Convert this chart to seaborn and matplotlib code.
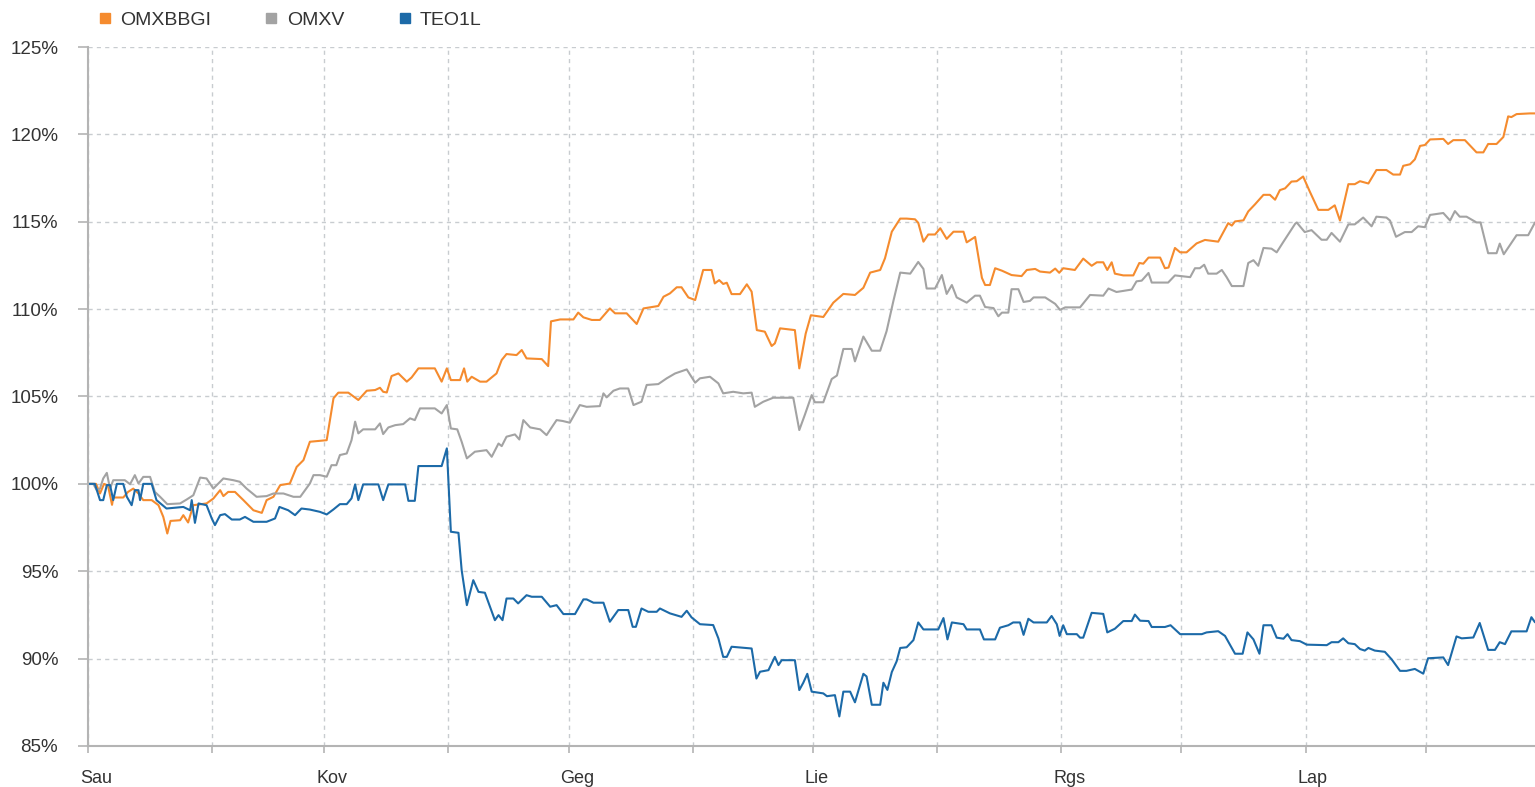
import pandas as pd
import seaborn as sns
import matplotlib
matplotlib.use("Agg")
import matplotlib.pyplot as plt
import matplotlib.dates as mdates
import matplotlib.transforms as mtransforms
from matplotlib.lines import Line2D
from matplotlib.ticker import FuncFormatter, MultipleLocator

# (day of year, % of start value)
omxbbgi = [
    (0, 100.0), (2, 100.0), (3, 99.45), (4, 100.0), (5, 99.9), (6, 98.8), (6.3, 99.22),
    (8.8, 99.22), (10, 99.54), (11.3, 99.73), (12.6, 99.45), (13.8, 99.07), (15.9, 99.07),
    (17.6, 98.78), (18.8, 98.11), (19.8, 97.16), (20.6, 97.88), (23, 97.92), (23.8, 98.21),
    (25, 97.79), (26.3, 98.78), (29.6, 98.88), (31.3, 99.16), (33, 99.64), (33.8, 99.3),
    (35, 99.54), (36.7, 99.54), (38.8, 99.07), (41.3, 98.49), (43.4, 98.34), (44.6, 99.07),
    (46.3, 99.26), (48, 99.93), (50.4, 100.02), (52.1, 100.97), (53.8, 101.36), (55.4, 102.41),
    (59.6, 102.5), (61.3, 104.9), (62.5, 105.22), (65, 105.22), (67.5, 104.8), (69.6, 105.33),
    (71.7, 105.37), (72.9, 105.5), (73.7, 105.27), (74.6, 105.23), (75.8, 106.17), (77.5, 106.32),
    (79.6, 105.85), (80.8, 106.09), (82.5, 106.61), (86.6, 106.61), (88.3, 105.85), (89.6, 106.61),
    (90.6, 105.94), (92.9, 105.94), (93.9, 106.61), (94.7, 105.85), (95.8, 106.13), (97.9, 105.85),
    (99.5, 105.85), (102, 106.32), (103.3, 107.09), (104.5, 107.43), (107, 107.37), (108.3, 107.66),
    (109.5, 107.18), (113.3, 107.14), (114.9, 106.74), (115.6, 109.3), (117.9, 109.41),
    (121.2, 109.41), (122.4, 109.8), (123.7, 109.53), (125.8, 109.38), (127.8, 109.38),
    (130.3, 110.04), (131.6, 109.76), (134.5, 109.76), (135.7, 109.47), (137, 109.15),
    (138.7, 110.04), (142.4, 110.18), (143.7, 110.71), (145.3, 110.9), (147, 111.25),
    (148.2, 111.25), (149.9, 110.67), (151.6, 110.52), (153.6, 112.24), (155.7, 112.24),
    (156.5, 111.47), (157.6, 111.66), (158.6, 111.44), (159.5, 111.51), (160.7, 110.86),
    (162.8, 110.86), (164.5, 111.42), (165.7, 111.0), (167, 108.8), (169, 108.71),
    (170.7, 107.89), (171.5, 108.04), (172.8, 108.9), (176.5, 108.8), (177.6, 106.61),
    (179.2, 108.6), (180.5, 109.65), (183.6, 109.55), (186.1, 110.37), (188.6, 110.87),
    (191.5, 110.81), (193.6, 111.22), (195.3, 112.09), (197.8, 112.24), (199, 112.91),
    (200.7, 114.43), (202.8, 115.18), (204.4, 115.18), (206.5, 115.14), (207.3, 114.94),
    (208.6, 113.86), (209.8, 114.27), (211.5, 114.27), (212.8, 114.63), (214.4, 114.02),
    (216.1, 114.43), (218.6, 114.43), (219.4, 113.82), (221.5, 114.13), (223.2, 111.79),
    (224, 111.38), (225.2, 111.38), (226.5, 112.34), (228.2, 112.2), (230.6, 111.95),
    (233.1, 111.89), (234.4, 112.24), (236.5, 112.3), (237.7, 112.15), (240.2, 112.09),
    (241.5, 112.32), (242.5, 112.08), (243.5, 112.34), (246.4, 112.24), (248.5, 112.89),
    (250.6, 112.48), (251.9, 112.68), (253.5, 112.68), (254.5, 112.24), (255.6, 112.68),
    (256.4, 112.03), (258.5, 111.93), (261, 111.93), (262.5, 112.64), (263.5, 112.6),
    (264.8, 112.95), (267.7, 112.95), (268.9, 112.34), (269.8, 112.38), (271.4, 113.5),
    (272.7, 113.25), (274.3, 113.25), (276.8, 113.76), (278.9, 113.96), (282.2, 113.86),
    (284.7, 114.92), (285.6, 114.78), (286.4, 115.02), (288.5, 115.08), (289.7, 115.59),
    (291.4, 116.0), (293.5, 116.54), (295.1, 116.54), (296.4, 116.26), (297.6, 116.81),
    (298.9, 116.91), (300.5, 117.3), (301.8, 117.32), (303.4, 117.59), (305.1, 116.71),
    (307.2, 115.68), (309.7, 115.68), (311.3, 115.94), (312.6, 115.07), (314.7, 117.15),
    (316.3, 117.15), (317.6, 117.32), (319.7, 117.19), (321.7, 117.96), (324.2, 117.96),
    (325.9, 117.7), (327.6, 117.7), (328.4, 118.2), (330.1, 118.29), (331.3, 118.57),
    (332.6, 119.34), (333.8, 119.39), (335.1, 119.71), (338.4, 119.74), (339.6, 119.45),
    (340.9, 119.67), (343.8, 119.67), (346.7, 118.97), (348.4, 118.97), (349.6, 119.45),
    (351.7, 119.45), (353.4, 119.85), (354.6, 121.03), (355.4, 120.99), (356.7, 121.16),
    (360, 121.2), (361.3, 121.2),
]

omxv = [
    (0, 100.0), (1.3, 100.0), (2.2, 99.64), (3, 99.73), (3.8, 100.31), (4.7, 100.63), (5.5, 99.73),
    (6.3, 100.21), (9.2, 100.21), (10.5, 99.98), (11.7, 100.5), (12.6, 100.02), (13.8, 100.4),
    (15.5, 100.4), (16.7, 99.54), (18, 99.26), (19.8, 98.84), (23, 98.88), (24.6, 99.1),
    (26.3, 99.35), (28, 100.36), (29.6, 100.31), (31.3, 99.73), (33.8, 100.31), (36.3, 100.21),
    (37.9, 100.12), (39.6, 99.73), (42.1, 99.26), (44.6, 99.3), (46.3, 99.45), (48.8, 99.45),
    (51.3, 99.26), (53, 99.26), (55.4, 100.02), (56.3, 100.5), (57.9, 100.5), (59.6, 100.41),
    (60.8, 101.07), (62, 101.07), (62.9, 101.65), (64.6, 101.74), (65.8, 102.5), (66.7, 103.56),
    (67.5, 102.89), (68.7, 103.12), (71.7, 103.12), (72.9, 103.46), (73.7, 102.85), (75, 103.23),
    (76.7, 103.36), (78.7, 103.42), (80.4, 103.75), (81.6, 103.65), (82.9, 104.32), (86.6, 104.32),
    (88.3, 104.03), (89.6, 104.51), (90.6, 103.17), (92.2, 103.12), (93.3, 102.41), (94.6, 101.46),
    (96.6, 101.84), (99.5, 101.93), (100.8, 101.55), (102.5, 102.31), (103.3, 102.16),
    (104.5, 102.7), (106.6, 102.83), (107.7, 102.54), (108.7, 103.65), (110.4, 103.23),
    (112.9, 103.12), (114.5, 102.79), (117, 103.65), (118.5, 103.6), (120.3, 103.5),
    (122.8, 104.51), (124.5, 104.41), (127.8, 104.45), (128.7, 105.18), (129.5, 104.95),
    (131.2, 105.33), (132.8, 105.46), (134.9, 105.46), (136.2, 104.51), (138.2, 104.7),
    (139.5, 105.66), (142.4, 105.71), (144.5, 106.04), (146.6, 106.32), (149.5, 106.55),
    (151.6, 105.79), (152.8, 106.04), (155.3, 106.13), (157.4, 105.75), (158.6, 105.18),
    (161.1, 105.27), (163.6, 105.18), (165.7, 105.22), (166.5, 104.41), (168.6, 104.7),
    (171.1, 104.93), (176.1, 104.93), (177.6, 103.08), (179, 103.96), (180.7, 105.08),
    (181.5, 104.67), (183.6, 104.67), (185.7, 106.0), (187, 106.2), (188.6, 107.72),
    (190.7, 107.72), (191.5, 107.01), (193.6, 108.43), (195.7, 107.62), (197.8, 107.62),
    (199.4, 108.74), (201.1, 110.47), (202.8, 112.09), (205.3, 112.03), (206.1, 112.3),
    (207.3, 112.7), (208.6, 112.3), (209.4, 111.18), (211.5, 111.18), (213.2, 111.95),
    (214.4, 110.87), (215.7, 111.38), (216.9, 110.67), (219.4, 110.37), (221.5, 110.77),
    (222.7, 110.77), (224, 110.12), (226.1, 110.06), (227.3, 109.59), (228.2, 109.8),
    (229.8, 109.8), (230.6, 111.14), (232.3, 111.14), (233.6, 110.41), (235.2, 110.47),
    (236.1, 110.67), (239, 110.67), (241.5, 110.3), (242.7, 109.96), (244, 110.1),
    (247.7, 110.1), (250.2, 110.81), (253.5, 110.77), (254.8, 111.18), (256.8, 110.98),
    (260.6, 111.12), (261.8, 111.59), (263.1, 111.63), (264.8, 112.07), (265.6, 111.52),
    (269.7, 111.52), (271.4, 111.93), (275.2, 111.83), (276.4, 112.34), (277.6, 112.34),
    (278.7, 112.54), (279.7, 112.03), (281.8, 112.03), (283.1, 112.24), (284.3, 111.83),
    (285.6, 111.32), (288.5, 111.32), (289.7, 112.64), (291, 112.8), (292.2, 112.48),
    (293.5, 113.5), (295.5, 113.46), (296.8, 113.25), (298.5, 113.86), (301.4, 114.88),
    (301.8, 114.96), (303.8, 114.41), (305.5, 114.52), (308, 113.97), (309.3, 113.97),
    (310.5, 114.36), (312.6, 113.86), (314.7, 114.85), (316.3, 114.85), (318.4, 115.24),
    (320.5, 114.74), (321.7, 115.29), (324.2, 115.24), (325.1, 115.07), (326.6, 114.14),
    (328.8, 114.41), (330.5, 114.41), (332.1, 114.74), (333.8, 114.69), (335.1, 115.39),
    (338.4, 115.5), (340.1, 115.07), (341.3, 115.61), (342.5, 115.29), (344.2, 115.29),
    (346.7, 114.96), (347.7, 114.96), (349.6, 113.2), (351.7, 113.2), (352.5, 113.75),
    (353.5, 113.14), (356.7, 114.23), (359.6, 114.23), (361.3, 114.96),
]

teo1l = [
    (0, 100.0), (1.7, 100.0), (3, 99.07), (3.8, 99.07), (4.7, 99.93), (5.5, 99.93), (6.3, 99.07),
    (7.2, 100.0), (8.8, 100.0), (9.7, 99.26), (10.9, 98.78), (11.7, 99.64), (12.6, 99.64),
    (13, 99.07), (13.8, 100.0), (15.9, 100.0), (17.1, 99.07), (19.6, 98.59), (23.8, 98.68),
    (25.5, 98.49), (25.9, 99.07), (26.7, 97.77), (27.6, 98.88), (29.6, 98.78), (30.9, 98.02),
    (31.7, 97.64), (33, 98.21), (34.2, 98.27), (35.9, 97.96), (37.9, 97.96), (39.2, 98.11),
    (41.3, 97.83), (44.6, 97.83), (46.7, 98.02), (47.8, 98.68), (50, 98.49), (51.7, 98.21),
    (53.3, 98.59), (55.4, 98.53), (57.9, 98.4), (59.6, 98.25), (61.3, 98.54), (62.9, 98.84),
    (64.6, 98.84), (65.8, 99.17), (66.7, 99.97), (67.5, 99.07), (68.7, 99.97), (72.5, 99.97),
    (73.7, 99.07), (75, 99.97), (79.2, 99.97), (80, 99.03), (81.6, 99.03), (82.5, 101.02),
    (88.3, 101.02), (89.6, 102.03), (90.6, 97.26), (92.5, 97.2), (93.3, 95.06), (94.6, 93.06),
    (96.2, 94.49), (97.5, 93.82), (99.1, 93.77), (101.6, 92.2), (102.5, 92.49), (103.5, 92.2),
    (104.5, 93.44), (106.2, 93.44), (107.4, 93.16), (109.5, 93.63), (110.8, 93.54),
    (113.3, 93.54), (115.4, 92.97), (117, 93.06), (118.7, 92.55), (121.6, 92.55), (123.7, 93.39),
    (124.5, 93.39), (126.2, 93.2), (128.7, 93.2), (130.3, 92.11), (132.4, 92.78), (134.9, 92.78),
    (136, 91.82), (136.8, 91.82), (138.2, 92.87), (139.9, 92.68), (142, 92.68), (142.8, 92.87),
    (145.3, 92.59), (148.2, 92.39), (149.5, 92.74), (150.7, 92.36), (152.8, 91.97),
    (156.1, 91.92), (157.4, 91.16), (158.6, 90.1), (159.5, 90.1), (160.7, 90.68), (165.7, 90.58),
    (166.9, 88.86), (167.8, 89.25), (169.9, 89.34), (171.5, 90.1), (172.4, 89.63), (173.2, 89.91),
    (176.5, 89.91), (177.6, 88.2), (178.6, 88.62), (179.6, 89.13), (180.7, 88.11), (183.6, 88.01),
    (184.5, 87.85), (186.5, 87.91), (187.6, 86.69), (188.6, 88.11), (190.3, 88.11), (191.5, 87.5),
    (193.6, 89.13), (194.4, 88.98), (195.7, 87.36), (197.8, 87.36), (198.6, 88.62), (199.6, 88.21),
    (200.7, 89.23), (201.9, 89.84), (202.8, 90.61), (204.4, 90.65), (206.1, 91.06), (207.3, 92.07),
    (208.6, 91.67), (212.3, 91.67), (213.6, 92.32), (214.6, 91.1), (215.7, 92.07), (218.6, 91.97),
    (219.4, 91.67), (222.7, 91.67), (223.7, 91.1), (226.5, 91.1), (227.7, 91.77), (229.8, 91.91),
    (231, 92.07), (232.7, 92.07), (233.6, 91.36), (234.8, 92.28), (236.1, 92.07), (239.4, 92.07),
    (240.6, 92.44), (241.9, 91.97), (242.6, 91.3), (243.5, 91.91), (244.4, 91.4), (246.9, 91.4),
    (247.7, 91.2), (248.5, 91.2), (250.6, 92.62), (253.5, 92.56), (254.5, 91.5), (256.4, 91.71),
    (258.5, 92.15), (260.6, 92.15), (261.4, 92.52), (262.7, 92.17), (264.8, 92.15), (265.6, 91.81),
    (268.9, 91.81), (270.3, 91.91), (272.7, 91.4), (278.1, 91.4), (279.3, 91.5), (282.2, 91.57),
    (283.9, 91.3), (286.4, 90.28), (288.3, 90.28), (289.5, 91.5), (291, 91.1), (292.5, 90.28),
    (293.5, 91.91), (295.5, 91.91), (296.8, 91.2), (298.5, 91.14), (299.5, 91.4), (300.5, 91.06),
    (302.6, 91.0), (304.3, 90.8), (309.3, 90.77), (310.5, 90.94), (312.2, 90.94), (313.4, 91.16),
    (314.7, 90.88), (316.3, 90.83), (317.6, 90.55), (318.8, 90.46), (319.7, 90.61), (321.3, 90.46),
    (323.8, 90.39), (325.5, 89.96), (327.6, 89.3), (329.2, 89.3), (331.3, 89.41), (333.4, 89.14),
    (334.6, 90.02), (338.4, 90.07), (339.6, 89.63), (341.7, 91.27), (343, 91.16), (345.9, 91.21),
    (347.5, 92.04), (349.6, 90.5), (351.3, 90.5), (352.5, 90.94), (353.8, 90.83), (355.4, 91.56),
    (359.2, 91.56), (360.4, 92.37), (361.3, 92.08),
]

series_names = ["OMXBBGI", "OMXV", "TEO1L"]
series_colors = ["#f58b2e", "#a3a3a3", "#1c6aa8"]
month_labels = ["Sau", "", "Kov", "", "Geg", "", "Lie", "", "Rgs", "", "Lap", ""]

start = pd.Timestamp("2013-01-01")
last_day = 361.3

frames = []
for name, pts in zip(series_names, [omxbbgi, omxv, teo1l]):
    d = pd.DataFrame(pts, columns=["day", "value"])
    d["date"] = start + pd.to_timedelta(d["day"], unit="D")
    d["series"] = name
    frames.append(d)
df = pd.concat(frames, ignore_index=True)

sns.set_theme(style="white")
plt.rcParams["font.family"] = ["Liberation Sans", "DejaVu Sans"]

fig = plt.figure(figsize=(15.35, 7.87), dpi=100)
ax = fig.add_axes([88 / 1535, 1 - 746 / 787, 1 - 88 / 1535, (746 - 47) / 787])

sns.lineplot(data=df, x="date", y="value", hue="series", hue_order=series_names,
             palette=series_colors, estimator=None, sort=False, linewidth=1.5,
             legend=False, ax=ax)

ax.set_xlim(start, start + pd.Timedelta(days=last_day))
ax.set_ylim(85, 125)
ax.set_xlabel("")
ax.set_ylabel("")

ax.yaxis.set_major_locator(MultipleLocator(5))
ax.yaxis.set_major_formatter(FuncFormatter(lambda v, p: f"{v:.0f}%"))
ax.xaxis.set_major_locator(mdates.MonthLocator())
ax.xaxis.set_major_formatter(FuncFormatter(lambda v, p: month_labels[mdates.num2date(v).month - 1]))

ax.grid(True, color="#c8ccd0", linestyle=(0, (3, 3)), linewidth=1.0)
ax.set_axisbelow(True)
for side in ["top", "right"]:
    ax.spines[side].set_visible(False)
for side in ["left", "bottom"]:
    ax.spines[side].set_color("#b4b4b4")
    ax.spines[side].set_linewidth(1.5)

ax.tick_params(axis="y", direction="out", length=7.5, width=1.2, color="#b4b4b4",
               labelsize=13.5, labelcolor="#333333", pad=14, left=True)
ax.tick_params(axis="x", direction="out", length=5, width=1.2, color="#b4b4b4",
               labelsize=13, labelcolor="#333333", pad=12, bottom=True)

shift = mtransforms.ScaledTranslation(-8 / 100, 0, fig.dpi_scale_trans)
for lbl in ax.get_xticklabels():
    lbl.set_horizontalalignment("left")
    lbl.set_transform(lbl.get_transform() + shift)

handles = [Line2D([], [], marker="s", linestyle="none", markersize=7, color=c)
           for c in series_colors]
fig.legend(handles, series_names, loc="center left",
           bbox_to_anchor=(88 / 1535, 1 - 20 / 787), ncol=3, frameon=False,
           fontsize=14, handlelength=0.7, handletextpad=0.45, columnspacing=2.75,
           borderpad=0, labelcolor="#333333")

fig.savefig("out.png", dpi=100, facecolor="white")
